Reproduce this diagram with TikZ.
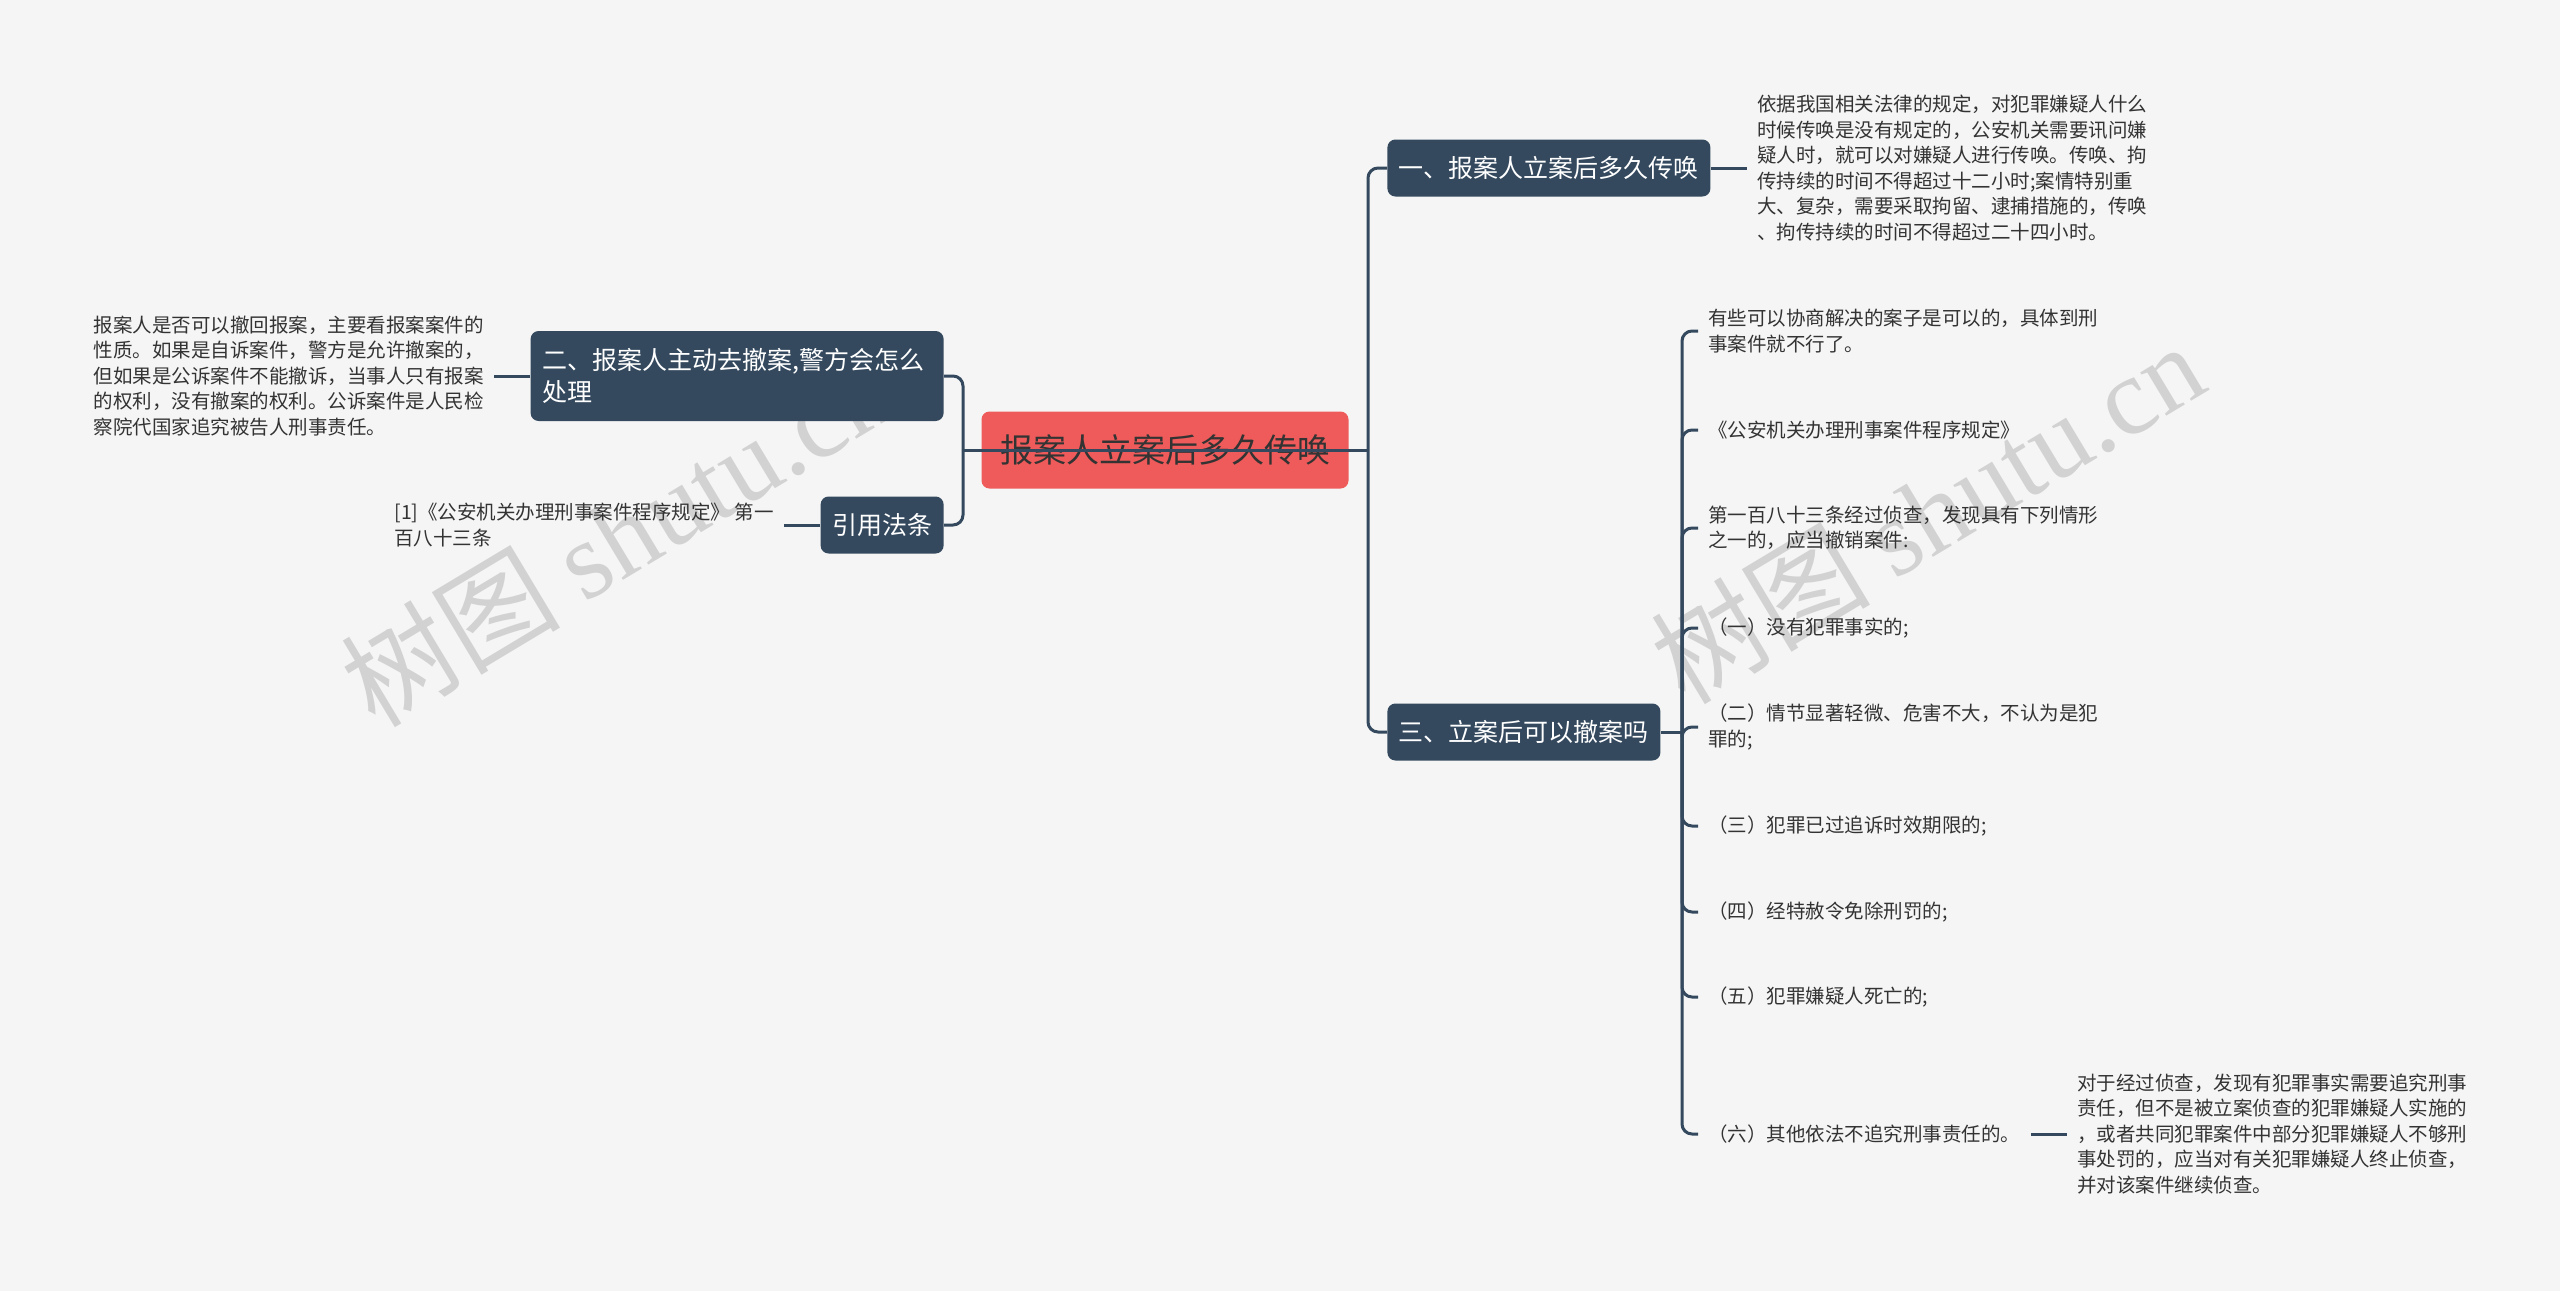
\documentclass[tikz,border=0pt]{standalone}
\usepackage{fontspec}
\setmainfont{Noto Sans CJK SC}
\newfontfamily\markfont{Liberation Serif}
\usetikzlibrary{positioning}
\definecolor{canvas}{HTML}{F5F5F5}
\definecolor{topicblue}{HTML}{34495E}
\definecolor{rootred}{HTML}{EF5B5B}
\definecolor{ink}{HTML}{333333}
\definecolor{markgray}{HTML}{D2D2D2}

\begin{document}
\begin{tikzpicture}[
      x=0.5pt, y=-0.5pt,
      node distance=18pt,
      every node/.style={text=ink},
      rootbox/.style={rectangle, fill=rootred, rounded corners=4pt, inner sep=0pt,
                      minimum width=183.5pt, minimum height=38.5pt,
                      font=\fontsize{16.5}{20}\selectfont},
      topic/.style={rectangle, fill=topicblue, text=white, rounded corners=4pt,
                    minimum height=28.5pt, inner xsep=5.75pt, inner ysep=0pt,
                    font=\fontsize{12.5}{16}\selectfont},
      leaf/.style={inner xsep=5pt, inner ysep=0pt, align=left,
                   font=\fontsize{9.75}{12.75}\selectfont},
      link/.style={draw=topicblue, line width=1.5pt, rounded corners=5pt},
      wmark/.style={text=markgray, rotate=31, font=\fontsize{55}{60}\selectfont},
    ]
    \useasboundingbox[fill=canvas] (0,0) rectangle (2560,1291);

    % watermarks
    \node[wmark] (wm1) at (617,535)  {树图 {\markfont shutu.cn}};
    \node[wmark] (wm2) at (1927,512) {树图 {\markfont shutu.cn}};

    % main topics
    \node[rootbox] (root) at (1165,450) {报案人立案后多久传唤};
    \node[topic, anchor=west] (t1) at (1387,168) {一、报案人立案后多久传唤};
    \node[topic, anchor=west] (t3) at (1387,732) {三、立案后可以撤案吗};
    \node[topic, anchor=east, align=left, text width=195pt, minimum height=45pt]
      (t2) at (944,376) {二、报案人主动去撤案,警方会怎么\\处理};
    \node[topic, anchor=east] (law) at (944,525) {引用法条};

    \coordinate (lj) at (963,450);
    \coordinate (rj) at (1368,450);
    \draw[link] (lj) -- (rj);
    \draw[link] (rj) |- (t1.west);
    \draw[link] (rj) |- (t3.west);
    \draw[link] (lj) |- (t2.east);
    \draw[link] (lj) |- (law.east);

    % details
    \node[leaf, right=of t1] (d1) {依据我国相关法律的规定，对犯罪嫌疑人什么\\
      时候传唤是没有规定的，公安机关需要讯问嫌\\
      疑人时，就可以对嫌疑人进行传唤。传唤、拘\\
      传持续的时间不得超过十二小时;案情特别重\\
      大、复杂，需要采取拘留、逮捕措施的，传唤\\
      、拘传持续的时间不得超过二十四小时。};
    \node[leaf, left=of t2] (d2) {报案人是否可以撤回报案，主要看报案案件的\\
      性质。如果是自诉案件，警方是允许撤案的，\\
      但如果是公诉案件不能撤诉，当事人只有报案\\
      的权利，没有撤案的权利。公诉案件是人民检\\
      察院代国家追究被告人刑事责任。};
    \node[leaf, left=of law] (d4) {[1]《公安机关办理刑事案件程序规定》 第一\\百八十三条};

    \draw[link] (t1) -- (d1);
    \draw[link] (t2) -- (d2);
    \draw[link] (law) -- (d4);

    % withdrawal cases
    \coordinate (sj) at (1682,732);
    \draw[link] (t3) -- (sj);
    \node[leaf, anchor=west] (s1) at (1698,331)  {有些可以协商解决的案子是可以的，具体到刑\\事案件就不行了。};
    \node[leaf, anchor=west] (s2) at (1698,430)  {《公安机关办理刑事案件程序规定》};
    \node[leaf, anchor=west] (s3) at (1698,528)  {第一百八十三条经过侦查，发现具有下列情形\\之一的，应当撤销案件:};
    \node[leaf, anchor=west] (s4) at (1698,628)  {（一）没有犯罪事实的;};
    \node[leaf, anchor=west] (s5) at (1698,727)  {（二）情节显著轻微、危害不大，不认为是犯\\罪的;};
    \node[leaf, anchor=west] (s6) at (1698,826)  {（三）犯罪已过追诉时效期限的;};
    \node[leaf, anchor=west] (s7) at (1698,912)  {（四）经特赦令免除刑罚的;};
    \node[leaf, anchor=west] (s8) at (1698,997)  {（五）犯罪嫌疑人死亡的;};
    \node[leaf, anchor=west] (s9) at (1698,1134) {（六）其他依法不追究刑事责任的。};
    \node[leaf, right=of s9] (s9x) {对于经过侦查，发现有犯罪事实需要追究刑事\\
      责任，但不是被立案侦查的犯罪嫌疑人实施的\\
      ，或者共同犯罪案件中部分犯罪嫌疑人不够刑\\
      事处罚的，应当对有关犯罪嫌疑人终止侦查，\\
      并对该案件继续侦查。};

    \draw[link] (sj) |- (s1.west);
    \draw[link] (sj) |- (s2.west);
    \draw[link] (sj) |- (s3.west);
    \draw[link] (sj) |- (s4.west);
    \draw[link] (sj) |- (s5.west);
    \draw[link] (sj) |- (s6.west);
    \draw[link] (sj) |- (s7.west);
    \draw[link] (sj) |- (s8.west);
    \draw[link] (sj) |- (s9.west);
    \draw[link] (s9) -- (s9x);
  \end{tikzpicture}
\end{document}
